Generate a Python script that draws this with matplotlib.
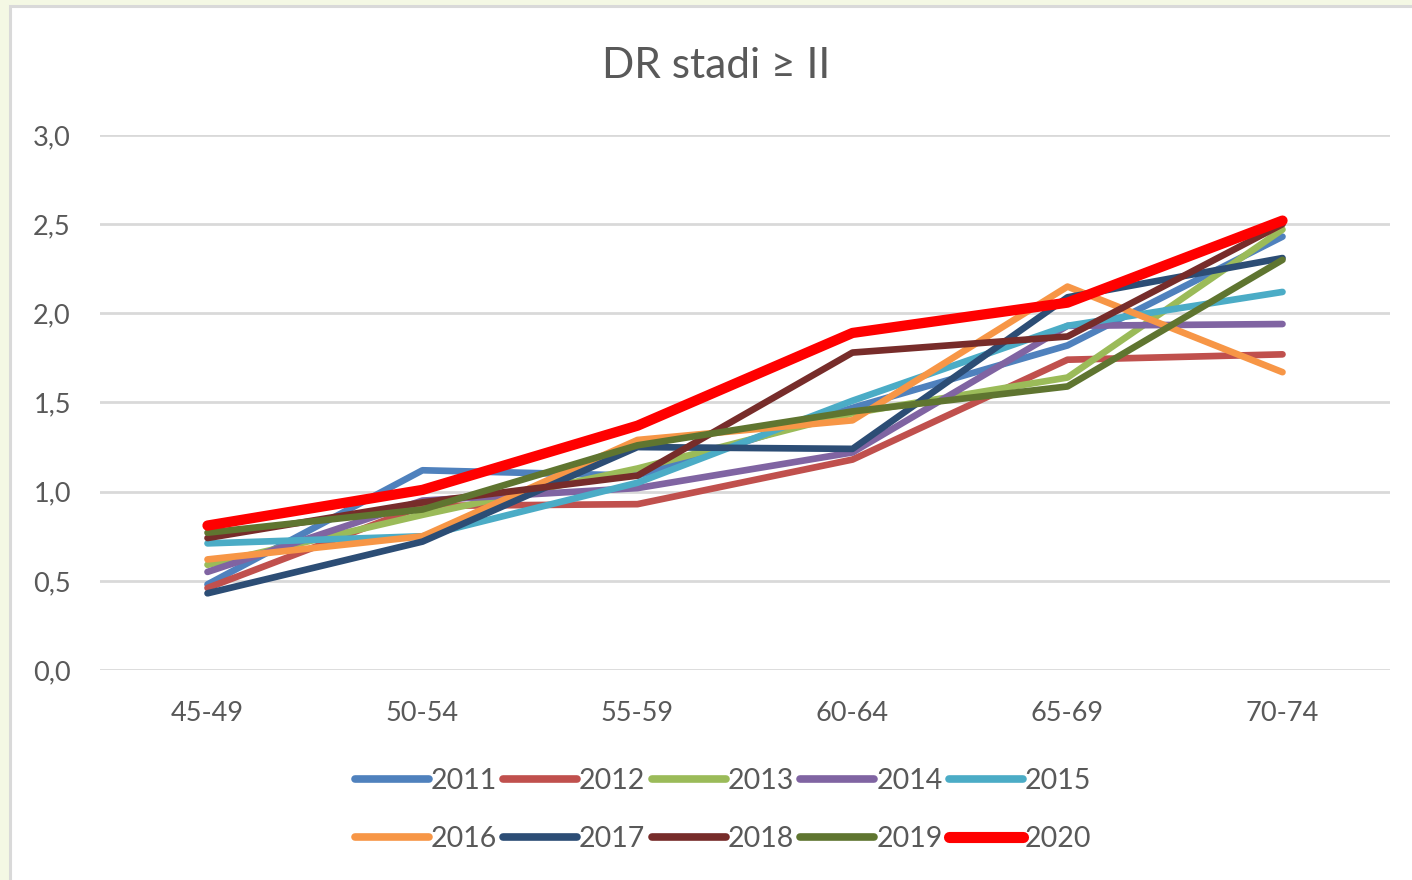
import matplotlib
matplotlib.use("Agg")
import matplotlib.pyplot as plt
from matplotlib.patches import Rectangle

plt.rcParams['font.family'] = ['Lato', 'DejaVu Sans']

categories = ["45-49", "50-54", "55-59", "60-64", "65-69", "70-74"]
years = ["2011", "2012", "2013", "2014", "2015", "2016", "2017", "2018", "2019", "2020"]

v2011 = [0.48, 1.12, 1.09, 1.47, 1.82, 2.43]
v2012 = [0.46, 0.92, 0.93, 1.18, 1.74, 1.77]
v2013 = [0.59, 0.87, 1.13, 1.44, 1.64, 2.47]
v2014 = [0.55, 0.95, 1.02, 1.22, 1.93, 1.94]
v2015 = [0.71, 0.75, 1.05, 1.51, 1.93, 2.12]
v2016 = [0.62, 0.75, 1.29, 1.40, 2.15, 1.67]
v2017 = [0.43, 0.72, 1.25, 1.24, 2.09, 2.31]
v2018 = [0.74, 0.94, 1.09, 1.78, 1.87, 2.50]
v2019 = [0.77, 0.90, 1.26, 1.45, 1.59, 2.30]
v2020 = [0.81, 1.01, 1.37, 1.89, 2.06, 2.52]
series = [v2011, v2012, v2013, v2014, v2015, v2016, v2017, v2018, v2019, v2020]

colors = ["#4F81BD", "#C0504D", "#9BBB59", "#8064A2", "#4BACC6",
          "#F79646", "#2C4D75", "#772C2A", "#5F7530", "#FF0000"]

yticks = [0.0, 0.5, 1.0, 1.5, 2.0, 2.5, 3.0]

W, H = 1412, 880
fig = plt.figure(figsize=(W / 100, H / 100), dpi=100)
fig.patch.set_facecolor("#F4F8E4")
# chart area panel with grey border
panel = Rectangle((9.5 / W, -0.01), 1 - 9.5 / W + 0.01, 1.01 - 6.5 / H, transform=fig.transFigure,
                  facecolor="white", edgecolor="#D9D9D9", linewidth=2.2, zorder=-10)
fig.patches.append(panel)

ax = fig.add_axes([100 / W, 1 - 670 / H, 1290 / W, 535 / H])
ax.set_zorder(1)
ax.set_facecolor("none")

x = list(range(len(categories)))
handles = []
for i, (yr, vals, c) in enumerate(zip(years, series, colors)):
    lw = 7.4 if yr == "2020" else 4.8
    h, = ax.plot(x, vals, color=c, linewidth=lw, label=yr, solid_capstyle="round",
                 solid_joinstyle="round", zorder=3 + i)
    handles.append(h)

ax.set_xlim(-0.5, 5.5)
ax.set_ylim(0, 3.0)
ax.set_yticks(yticks)
ax.set_yticklabels([f"{t:.1f}".replace(".", ",") for t in yticks])
ax.set_xticks(x)
ax.set_xticklabels(categories)
ax.grid(axis="y", color="#D9D9D9", linewidth=2.0, zorder=1)
ax.set_axisbelow(True)
for s in ax.spines.values():
    s.set_visible(False)
ax.tick_params(axis="both", length=0, labelsize=19.5, colors="#595959")
ax.tick_params(axis="y", pad=21)
ax.tick_params(axis="x", pad=22)

fig.text(716 / W, 1 - 66 / H, "DR stadi \u2265 II", ha="center", va="center",
         fontsize=30.5, color="#595959")

order = [0, 5, 1, 6, 2, 7, 3, 8, 4, 9]
leg = fig.legend([handles[k] for k in order], [years[k] for k in order],
                 loc="center", bbox_to_anchor=(723 / W, 1 - 810 / H), ncol=5,
                 frameon=False, fontsize=20.5, handlelength=2.6, handletextpad=0.07,
                 columnspacing=0.22, labelspacing=1.15)
for t in leg.get_texts():
    t.set_color("#595959")
for h in leg.get_lines():
    h.set_solid_capstyle("round")
    h.set_linewidth(8.0 if h.get_color() == "#FF0000" else 5.5)

fig.savefig("out.png", dpi=100)
